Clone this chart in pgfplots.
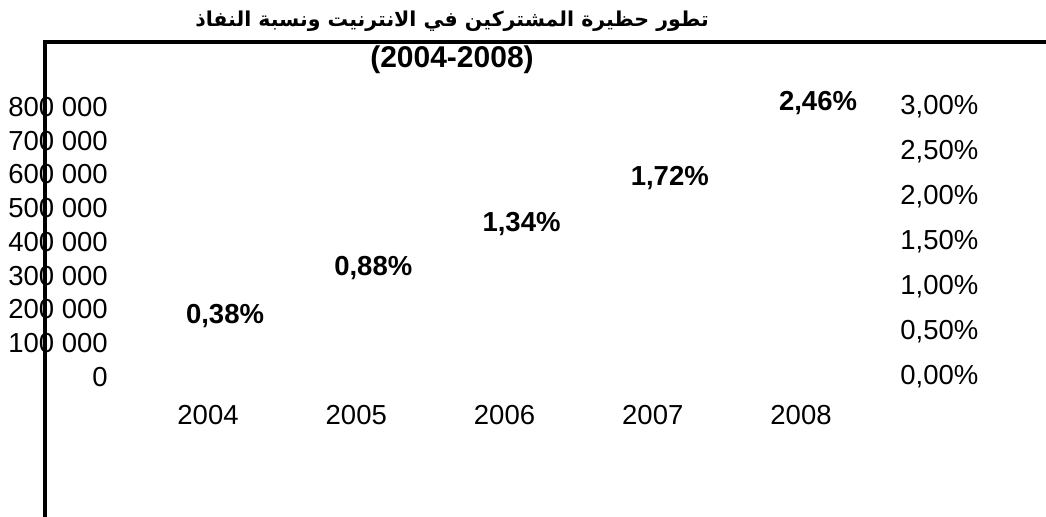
\documentclass[border=0pt]{standalone}
\usepackage{fontspec}
\setmainfont{Liberation Sans}
\newfontfamily\arabicfont[Script=Arabic]{DejaVu Sans}
\TeXXeTstate=1
\usepackage{pgfplots}
\usepackage{pgfplotstable}
\pgfplotsset{compat=1.18}

\pgfplotstableread{
x subs label
0 130000 {0,38\%}
1 273000 {0,88\%}
2 403000 {1,34\%}
3 539000 {1,72\%}
4 761000 {2,46\%}
}\subsdata

\pgfplotstableread{
x pen
0 0.38
1 0.88
2 1.34
3 1.72
4 2.46
}\pendata

\begin{document}
\begin{tikzpicture}
\useasboundingbox (0,0) rectangle (1046bp,517bp);
\pgfplotsset{
  common/.style={
    at={(133.9bp,140bp)}, anchor=south west,
    width=741.25bp, height=270bp, scale only axis,
    xmin=-0.5, xmax=4.5, clip=false,
    axis line style={draw=none}, major tick length=0pt,
    tick style={draw=none}, scaled y ticks=false,
    every tick label/.append style={font=\fontsize{27.5bp}{32bp}\selectfont, inner sep=0pt},
  }
}
\begin{axis}[common,
  ymin=0, ymax=800000,
  axis x line*=bottom, axis y line*=left,
  xtick={0,1,2,3,4},
  xticklabels={2004,2005,2006,2007,2008},
  xticklabel style={anchor=north, yshift=-28bp},
  ytick={0,100000,200000,300000,400000,500000,600000,700000,800000},
  yticklabels={0,100 000,200 000,300 000,400 000,500 000,600 000,700 000,800 000},
  yticklabel style={anchor=east, xshift=-26bp},
]
\addplot[ybar, bar width=40bp, draw=none, fill=none,
  nodes near coords, point meta=explicit symbolic,
  nodes near coords style={font=\fontsize{27.5bp}{32bp}\selectfont\bfseries,
     anchor=south, inner sep=0pt, yshift=5bp, xshift=17bp}]
  table[x=x, y=subs, meta=label] {\subsdata};
\end{axis}
\begin{axis}[common,
  ymin=0, ymax=3,
  axis x line=none, axis y line*=right,
  ytick={0,0.5,1,1.5,2,2.5,3},
  yticklabels={{0,00\%},{0,50\%},{1,00\%},{1,50\%},{2,00\%},{2,50\%},{3,00\%}},
  yticklabel style={anchor=west, xshift=25bp},
]
\addplot[draw=none, mark=none] table[x=x, y=pen] {\pendata};
\end{axis}
\draw[line width=4bp] (45bp,0bp) -- (45bp,475bp);
\draw[line width=4bp] (43bp,475bp) -- (1046bp,475bp);
\node[anchor=base, inner sep=0pt] at (452bp,490bp)
  {\arabicfont\bfseries\fontsize{20.5bp}{26bp}\selectfont\beginR تطور حظيرة المشتركين  في الانترنيت ونسبة النفاذ\endR};
\node[anchor=base, inner sep=0pt] at (452bp,449bp)
  {\bfseries\fontsize{30bp}{34bp}\selectfont (2004-2008)};
\end{tikzpicture}
\end{document}
